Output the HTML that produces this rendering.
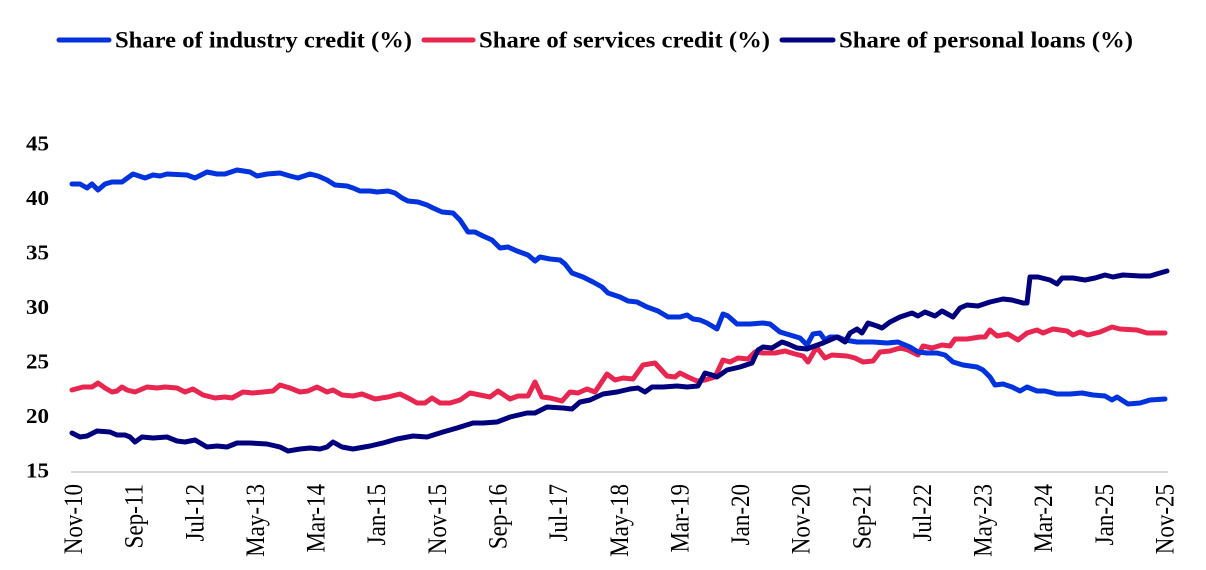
<!DOCTYPE html>
<html>
<head>
<meta charset="utf-8">
<style>
html,body{margin:0;padding:0;background:#fff;}
svg{display:block;}
.leg{font-family:"Liberation Serif",serif;font-weight:bold;font-size:23px;fill:#000;}
.yl{font-family:"Liberation Serif",serif;font-weight:bold;font-size:21px;fill:#000;}
.xl{font-family:"Liberation Serif",serif;font-size:26px;fill:#000;}
.ln{fill:none;stroke-width:5;stroke-linejoin:round;stroke-linecap:round;}
</style>
</head>
<body>
<svg width="1206" height="570" viewBox="0 0 1206 570" xmlns="http://www.w3.org/2000/svg">
<rect width="1206" height="570" fill="#fff"/>
<!-- Legend -->
<line x1="59" y1="40" x2="109" y2="40" stroke="#0033dd" stroke-width="5" stroke-linecap="round"/>
<text class="leg" x="115" y="47.5" textLength="297" lengthAdjust="spacingAndGlyphs">Share of industry credit (%)</text>
<line x1="424" y1="40" x2="473" y2="40" stroke="#e8264f" stroke-width="5" stroke-linecap="round"/>
<text class="leg" x="479" y="47.5" textLength="291" lengthAdjust="spacingAndGlyphs">Share of services credit (%)</text>
<line x1="782" y1="40" x2="833" y2="40" stroke="#00007f" stroke-width="5" stroke-linecap="round"/>
<text class="leg" x="839" y="47.5" textLength="294" lengthAdjust="spacingAndGlyphs">Share of personal loans (%)</text>

<!-- Y labels -->
<text class="yl" x="49" y="150.5" text-anchor="end" textLength="23" lengthAdjust="spacingAndGlyphs">45</text>
<text class="yl" x="49" y="205" text-anchor="end" textLength="23" lengthAdjust="spacingAndGlyphs">40</text>
<text class="yl" x="49" y="259.5" text-anchor="end" textLength="23" lengthAdjust="spacingAndGlyphs">35</text>
<text class="yl" x="49" y="314" text-anchor="end" textLength="23" lengthAdjust="spacingAndGlyphs">30</text>
<text class="yl" x="49" y="368.5" text-anchor="end" textLength="23" lengthAdjust="spacingAndGlyphs">25</text>
<text class="yl" x="49" y="423" text-anchor="end" textLength="23" lengthAdjust="spacingAndGlyphs">20</text>
<text class="yl" x="49" y="477.5" text-anchor="end" textLength="23" lengthAdjust="spacingAndGlyphs">15</text>

<!-- axis -->
<line x1="71" y1="472" x2="1168" y2="472" stroke="#d9d9d9" stroke-width="2"/>

<!-- X labels -->
<g class="xl">
<text transform="translate(82,484) rotate(-90) scale(0.885,1)" text-anchor="end">Nov-10</text>
<text transform="translate(142.6,484) rotate(-90) scale(0.885,1)" text-anchor="end">Sep-11</text>
<text transform="translate(203.3,484) rotate(-90) scale(0.885,1)" text-anchor="end">Jul-12</text>
<text transform="translate(263.9,484) rotate(-90) scale(0.885,1)" text-anchor="end">May-13</text>
<text transform="translate(324.6,484) rotate(-90) scale(0.885,1)" text-anchor="end">Mar-14</text>
<text transform="translate(385.2,484) rotate(-90) scale(0.885,1)" text-anchor="end">Jan-15</text>
<text transform="translate(445.8,484) rotate(-90) scale(0.885,1)" text-anchor="end">Nov-15</text>
<text transform="translate(506.5,484) rotate(-90) scale(0.885,1)" text-anchor="end">Sep-16</text>
<text transform="translate(567.1,484) rotate(-90) scale(0.885,1)" text-anchor="end">Jul-17</text>
<text transform="translate(627.8,484) rotate(-90) scale(0.885,1)" text-anchor="end">May-18</text>
<text transform="translate(688.4,484) rotate(-90) scale(0.885,1)" text-anchor="end">Mar-19</text>
<text transform="translate(749,484) rotate(-90) scale(0.885,1)" text-anchor="end">Jan-20</text>
<text transform="translate(809.7,484) rotate(-90) scale(0.885,1)" text-anchor="end">Nov-20</text>
<text transform="translate(870.3,484) rotate(-90) scale(0.885,1)" text-anchor="end">Sep-21</text>
<text transform="translate(931,484) rotate(-90) scale(0.885,1)" text-anchor="end">Jul-22</text>
<text transform="translate(991.6,484) rotate(-90) scale(0.885,1)" text-anchor="end">May-23</text>
<text transform="translate(1052.2,484) rotate(-90) scale(0.885,1)" text-anchor="end">Mar-24</text>
<text transform="translate(1112.9,484) rotate(-90) scale(0.885,1)" text-anchor="end">Jan-25</text>
<text transform="translate(1173.5,484) rotate(-90) scale(0.885,1)" text-anchor="end">Nov-25</text>
</g>

<!-- Services (red) -->
<polyline class="ln" stroke="#e8264f" points="72,390 83,387 92,387 98,383 105,388 112,392 117,391 122,387 127,390 135,392 147,387 157,388 165,387 177,388 185,392 193,389 203,395 215,398 225,397 232,398 243,392 253,393 263,392 273,391 280,385 290,388 300,392 308,391 317,387 327,392 333,390 342,395 353,396 362,394 375,399 388,397 400,394 410,399 417,403 425,403 432,398 440,403 450,403 460,400 470,393 480,395 490,397 498,391 510,399 518,396 528,396 535,382 542,397 550,398 562,401 570,392 578,393 587,389 595,392 607,374 615,380 623,378 633,379 643,365 655,363 667,376 675,377 680,373 688,377 697,381 705,380 715,377 723,360 730,362 738,358 748,359 755,352 763,353 775,353 785,351 795,354 803,356 808,362 815,350 818,349 825,358 832,355 847,356 855,358 863,362 873,361 880,352 890,351 900,348 908,350 918,355 923,346 932,348 942,345 950,346 955,339 967,339 980,337 985,337 990,330 997,336 1008,334 1018,340 1027,333 1037,330 1043,333 1053,329 1067,331 1073,335 1080,332 1088,335 1100,332 1112,327 1120,329 1137,330 1147,333 1165,333"/>

<!-- Industry (blue) -->
<polyline class="ln" stroke="#0033dd" points="72,184 80,184 87,188 92,184 98,190 105,184 112,182 122,182 133,174 145,178 153,175 160,176 167,174 187,175 195,178 207,172 217,174 225,174 237,170 250,172 257,176 267,174 280,173 290,176 298,178 310,174 318,176 327,180 335,185 347,186 353,188 360,191 370,191 377,192 388,191 395,193 402,198 408,201 418,202 427,205 433,208 442,212 453,213 460,220 468,232 475,232 483,236 492,240 500,248 508,247 517,251 528,255 535,261 540,257 550,259 560,260 565,264 572,273 583,277 593,282 602,287 608,293 620,297 628,301 637,302 647,307 658,311 668,317 680,317 687,315 693,319 700,320 707,323 717,329 723,314 728,316 737,324 750,324 763,323 770,324 780,332 790,335 800,338 807,345 813,334 820,333 825,340 830,337 838,337 845,340 857,342 873,342 887,343 898,342 910,347 918,352 927,353 937,353 945,355 953,362 963,365 977,367 983,370 990,377 995,385 1003,384 1012,387 1020,391 1027,387 1037,391 1045,391 1057,394 1070,394 1082,393 1093,395 1105,396 1112,400 1117,397 1128,404 1140,403 1150,400 1165,399"/>

<!-- Personal loans (navy) -->
<polyline class="ln" stroke="#00007f" points="72,433 80,437 87,436 97,431 110,432 117,435 125,435 130,437 135,442 142,437 153,438 167,437 177,441 185,442 195,440 207,447 217,446 227,447 237,443 250,443 267,444 280,447 288,451 300,449 310,448 320,449 327,447 333,442 342,447 353,449 370,446 383,443 397,439 413,436 427,437 443,432 457,428 473,423 483,423 497,422 510,417 527,413 535,413 547,407 563,408 572,409 580,402 590,400 603,394 617,392 630,389 638,388 645,392 652,387 663,387 677,386 687,387 698,386 705,373 712,375 717,377 727,370 740,367 752,363 758,350 763,347 772,348 782,342 788,344 797,348 807,349 812,347 823,343 837,337 845,342 850,333 857,329 862,333 868,323 877,326 882,328 890,322 900,317 912,313 918,316 925,312 935,316 942,311 953,317 960,308 967,305 978,306 990,302 1003,299 1012,300 1023,303 1027,303 1030,277 1038,277 1050,280 1057,284 1062,278 1073,278 1085,280 1095,278 1105,275 1113,277 1123,275 1140,276 1150,276 1160,273 1167,271"/>
</svg>
</body>
</html>
